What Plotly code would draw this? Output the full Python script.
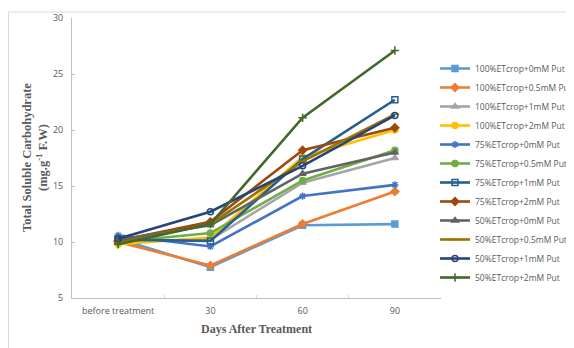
import plotly.graph_objects as go

categories = ["before treatment", "30", "60", "90"]

series_names = [
    "100%ETcrop+0mM Put", "100%ETcrop+0.5mM Put", "100%ETcrop+1mM Put", "100%ETcrop+2mM Put",
    "75%ETcrop+0mM Put", "75%ETcrop+0.5mM Put", "75%ETcrop+1mM Put", "75%ETcrop+2mM Put",
    "50%ETcrop+0mM Put", "50%ETcrop+0.5mM Put", "50%ETcrop+1mM Put", "50%ETcrop+2mM Put",
]

v100_0 = [10.3, 7.75, 11.5, 11.6]
v100_05 = [10.0, 7.9, 11.6, 14.5]
v100_1 = [10.1, 10.2, 15.3, 17.5]
v100_2 = [9.8, 10.4, 17.6, 20.0]
v75_0 = [10.6, 9.6, 14.1, 15.1]
v75_05 = [10.0, 10.8, 15.5, 18.2]
v75_1 = [10.2, 10.1, 17.4, 22.7]
v75_2 = [10.1, 11.8, 18.2, 20.2]
v50_0 = [10.2, 11.5, 16.1, 18.0]
v50_05 = [9.9, 11.6, 17.2, 21.4]
v50_1 = [10.3, 12.7, 16.8, 21.3]
v50_2 = [9.8, 11.6, 21.1, 27.1]

series_values = [v100_0, v100_05, v100_1, v100_2, v75_0, v75_05, v75_1, v75_2,
                 v50_0, v50_05, v50_1, v50_2]

colors = ["#5B9BD5", "#ED7D31", "#A5A5A5", "#FFC000", "#4472C4", "#70AD47",
          "#255E91", "#9E480E", "#636363", "#997300", "#264478", "#43682B"]
symbols = ["square", "diamond", "triangle-up", "circle", "asterisk-open", "circle",
           "square-open", "diamond", "triangle-up", "line-ew-open", "circle-open", "cross-thin-open"]

fig = go.Figure()
for name, vals, c, s in zip(series_names, series_values, colors, symbols):
    fig.add_trace(go.Scatter(
        x=categories, y=vals, name=name, mode="lines+markers",
        line=dict(color=c, width=2.6),
        marker=dict(symbol=s, size=6, color=c, line=dict(color=c, width=1.5)),
    ))

# page offset (body margin) of 8 px
OFF = 8
W, H = 566, 340
L, R, T, B = 72 - OFF, 441 - OFF, 18 - OFF, 298 - OFF
pw, ph = R - L, B - T

def px(x):  # page pixel -> paper x
    return (x - OFF - L) / pw

def py(y):  # page pixel -> paper y
    return (B - (y - OFF)) / ph

fig.update_layout(
    width=W, height=H,
    margin=dict(l=L, r=W - R, t=T, b=H - B, autoexpand=False),
    paper_bgcolor="white", plot_bgcolor="white",
    font=dict(family="Open Sans", color="#595959", size=9),
    showlegend=True,
    legend=dict(xref="container", yref="container", x=(435 - OFF) / W, y=1 - (54 - OFF) / H,
                xanchor="left", yanchor="top", maxheight=300,
                font=dict(family="Open Sans", size=8.5, color="#595959"),
                bgcolor="rgba(0,0,0,0)"),
    xaxis=dict(type="category", range=[-0.5, 3.5], showgrid=False,
               showline=True, linecolor="#BFBFBF", linewidth=1,
               ticks="inside", tickson="boundaries", ticklen=3, tickcolor="#D9D9D9",
               tickfont=dict(size=9, color="#595959"), ticklabelstandoff=4),
    yaxis=dict(range=[5, 30], dtick=5, showgrid=False, zeroline=False,
               showline=True, linecolor="#BFBFBF", linewidth=1,
               ticks="inside", ticklen=3, tickcolor="#BFBFBF",
               tickfont=dict(size=9, color="#595959"), ticklabelstandoff=6),
    shapes=[dict(type="rect", xref="paper", yref="paper",
                 x0=px(8.5), x1=px(620), y0=py(380), y1=py(12),
                 line=dict(color="#D9D9D9", width=1), layer="below")],
    annotations=[
        dict(text="<b>Total Soluble Carbohydrate<br>(mg.g<sup>-1</sup> F.W)</b>",
             x=px(35), y=0.5, xref="paper", yref="paper", xanchor="center", yanchor="middle",
             textangle=-90, showarrow=False,
             font=dict(family="Liberation Serif", size=12.5, color="#595959")),
        dict(text="<b>Days After Treatment</b>", x=0.5, y=py(329), xref="paper", yref="paper",
             xanchor="center", yanchor="middle", showarrow=False,
             font=dict(family="Liberation Serif", size=12, color="#595959")),
    ],
)

fig.write_html("out.html")
